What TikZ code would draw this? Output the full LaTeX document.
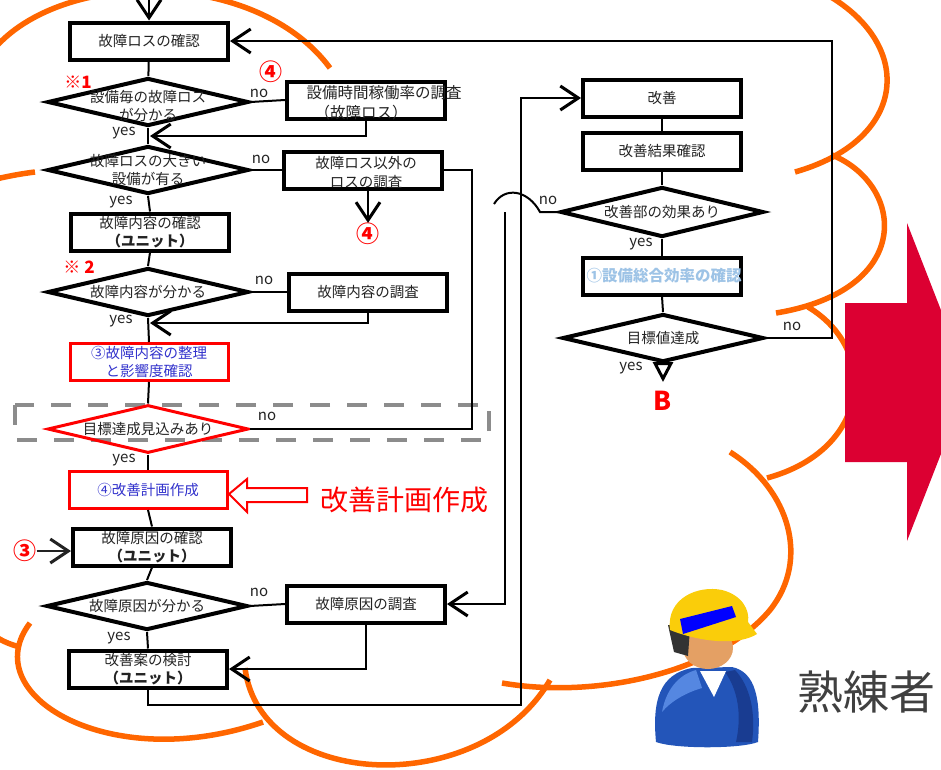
\documentclass[tikz,border=0pt]{standalone}
\usepackage{fontspec}
\setmainfont{Noto Sans CJK JP}
\usetikzlibrary{arrows.meta, shapes.geometric}

\definecolor{cloudorange}{RGB}{255,102,0}
\definecolor{planblue}{RGB}{51,51,204}
\definecolor{oeeblue}{RGB}{157,195,230}
\definecolor{bigred}{RGB}{220,0,50}
\definecolor{dashgray}{RGB}{140,140,140}
\definecolor{inkgray}{RGB}{35,35,35}
\definecolor{helmet}{RGB}{250,205,10}
\definecolor{skin}{RGB}{228,160,100}
\definecolor{suit}{RGB}{35,85,185}
\definecolor{suitdark}{RGB}{25,60,145}
\definecolor{suitlight}{RGB}{85,135,225}

\tikzset{
  proc/.style={draw, line width=4pt, fill=white, minimum width=158pt, minimum height=37pt,
    inner sep=0pt, align=center, font=\fontsize{14.5}{18}\selectfont, text=inkgray},
  redproc/.style={proc, draw=red, line width=3pt, text=planblue},
  decision/.style={diamond, draw, line width=4pt, minimum width=201pt,
    minimum height=48pt, inner sep=0pt},
  lbl/.style={font=\fontsize{14.5}{18}\selectfont, text=inkgray, align=center, inner sep=0pt},
  yn/.style={font=\fontsize{15}{16}\selectfont, text=inkgray, inner sep=0pt},
  redmark/.style={text=red, font=\fontsize{23}{24}\selectfont\bfseries, inner sep=0pt},
  flow/.style={line width=2pt},
  barb/.style={-{Straight Barb[length=18pt,width=24pt,line width=3pt]}},
  scallop/.style={draw=cloudorange, line width=5.5pt},
}

\begin{document}
\begin{tikzpicture}[x=1pt,y=-1pt]
\useasboundingbox (0,0) rectangle (941,769);
\clip (0,0) rectangle (941,769);

% cloud outline
\draw[scallop] (-20,70) .. controls (30,-30) and (250,-40) .. (330,68);
\draw[scallop] (-40,190) .. controls (-20,182) and (10,175) .. (35,172);
\draw[scallop] (780,-25) .. controls (915,15) and (925,135) .. (795,172);
\draw[scallop] (832,155) .. controls (905,185) and (915,290) .. (776,313);
\draw[scallop] (808,307) .. controls (880,350) and (870,450) .. (767,478);
\draw[scallop] (730,452) .. controls (790,490) and (810,560) .. (770,610)
  .. controls (720,670) and (600,700) .. (502,683);
\draw[scallop] (245,668) .. controls (260,790) and (480,800) .. (550,680);
\draw[scallop] (30,623) .. controls (-25,695) and (110,775) .. (263,722);
\draw[scallop] (-30,610) .. controls (-15,632) and (0,642) .. (20,647);

\draw[dashgray, line width=4.5pt, dash pattern=on 20pt off 17pt] (15,405) rectangle (489,440);

% left column
\node[proc] (lossChk) at (149,41) {故障ロスの確認};
\node[decision, label={[lbl,yshift=-4pt]center:設備毎の故障ロス\\が分かる}] (q1) at (148,102) {};
\node[proc, label={[lbl,align=left,font=\fontsize{15.5}{20}\selectfont,xshift=18pt,yshift=-3pt]center:設備時間稼働率の調査\\\hspace{8pt}（故障ロス）}] (runRate) at (366,100) {};
\node[decision, label={[lbl]center:故障ロスの大きい\\設備が有る}] (q2) at (148,170) {};
\node[proc, label={[lbl,font=\fontsize{14.5}{19}\selectfont,xshift=3pt,yshift=-3pt]center:故障ロス以外の\\ロスの調査}] (otherInv) at (363,170) {};
\node[proc] (contChk) at (150,232) {故障内容の確認\\{\bfseries（ユニット）}};
\node[decision, label={[lbl]center:故障内容が分かる}] (q3) at (148,292) {};
\node[proc] (contInv) at (368,292) {故障内容の調査};
\node[redproc] (sortOut) at (149,362) {③故障内容の整理\\と影響度確認};
\node[decision, draw=red, line width=3pt, label={[lbl]center:目標達成見込みあり}] (goal) at (148,429) {};
\node[redproc] (plan) at (148,490) {④改善計画作成};
\node[proc] (causeChk) at (152,547) {故障原因の確認\\{\bfseries（ユニット）}};
\node[decision, label={[lbl]center:故障原因が分かる}] (q4) at (147,606) {};
\node[proc] (causeInv) at (366,604) {故障原因の調査};
\node[proc] (review) at (148,669) {改善案の検討\\{\bfseries（ユニット）}};

% right column
\node[proc] (kaizen) at (662,98) {改善};
\node[proc] (result) at (662,151) {改善結果確認};
\node[decision, minimum width=203pt, minimum height=50pt, label={[lbl]center:改善部の効果あり}] (q5) at (662,212) {};
\node[proc, label={[lbl,text=oeeblue,font=\fontsize{15.5}{18}\selectfont\bfseries,xshift=2pt]center:①設備総合効率の確認}] (oee) at (662,276) {};
\node[decision, label={[lbl]center:目標値達成}] (q6) at (663,338) {};

% marks
\node[text=red, font=\fontsize{17}{18}\selectfont\bfseries, inner sep=0pt] (note1) at (78,82) {※1};
\node[text=red, font=\fontsize{17}{18}\selectfont\bfseries, inner sep=0pt] (note2) at (79,267) {※ 2};
\node[redmark] (m4a) at (271,72) {④};
\node[redmark] (m4b) at (368,234) {④};
\node[redmark] (m3) at (25,551) {③};
\node[text=red, font=\fontsize{26}{28}\selectfont\bfseries, inner sep=0pt] (outB) at (663,401) {B};

% yes / no
\node[yn] (no1) at (259,93) {no};
\node[yn] (yes1) at (124,133) {yes};
\node[yn] (no2) at (261,159) {no};
\node[yn] (yes2) at (121,202) {yes};
\node[yn] (no3) at (264,280) {no};
\node[yn] (yes3) at (121,321) {yes};
\node[yn] (no4) at (267,416) {no};
\node[yn] (yes4) at (124,460) {yes};
\node[yn] (no5) at (259,592) {no};
\node[yn] (yes5) at (119,638) {yes};
\node[yn] (no6) at (548,200) {no};
\node[yn] (yes6) at (641,244) {yes};
\node[yn] (no7) at (792,326) {no};
\node[yn] (yes7) at (631,368) {yes};

% connectors
\coordinate (entry) at (149,-10);
\coordinate (back1) at (150,136);
\coordinate (back3) at (150,323);
\coordinate (hopR) at (540,212);
\coordinate (hopL) at (494,204);
\coordinate (down5) at (505,212);
\coordinate (yesB) at (663,382);

\draw[flow,barb] (entry) -- (lossChk.north);
\draw[flow] (lossChk) -- (q1);
\draw[flow] (q1.east) -- (runRate.west);
\draw[flow,barb] (runRate.south) |- (back1);
\draw[flow] (q1.south) -- (q2.north);
\draw[flow] (q2.east) -- (otherInv.west);
\draw[flow,barb] (m4b.north |- otherInv.south) -- (m4b.north);
\draw[flow] (q2.south) -- (contChk.north);
\draw[flow] (contChk.south) -- (q3.north);
\draw[flow] (q3.east) -- (contInv.west);
\draw[flow,barb] (contInv.south) |- (back3);
\draw[flow] (q3.south) -- (sortOut.north);
\draw[flow] (sortOut.south) -- (goal.north);
\draw[flow] (goal.east) -- (472,429) |- (otherInv.east);
\draw[flow] (goal.south) -- (plan.north);
\draw[flow] (plan.south) -- (causeChk.north);
\draw[flow,barb,draw=inkgray] (m3.east) -- (m3.east -| causeChk.west);
\draw[flow] (causeChk.south) -- (q4.north);
\draw[flow] (q4.east) -- (causeInv.west);
\draw[flow,barb] (causeInv.south) |- (review.east);
\draw[flow] (q4.south) -- (review.north);
\draw[flow,barb] (review.south) |- (521,705) |- (kaizen.west);
\draw[flow] (kaizen) -- (result);
\draw[flow] (result) -- (q5);
\draw[flow] (q5.west) -- (hopR) .. controls (528,190) and (505,186) .. (hopL);
\draw[flow,barb] (down5) |- (causeInv.east);
\draw[flow] (q5.south) -- (oee.north);
\draw[flow] (oee.south) -- (q6.north);
\draw[flow,barb] (q6.east) -- (832,338) |- (lossChk.east);
\draw[flow,-{Triangle[open,length=20pt,width=20pt,line width=3pt]}] (q6.south) -- (yesB);

% hollow arrow and caption
\draw[red, line width=2pt, fill=white] (229,494) -- (247,479) -- (247,488) -- (307,488)
  -- (307,502) -- (247,502) -- (247,512) -- cycle;
\node[text=red, font=\fontsize{28}{30}\selectfont, inner sep=0pt] (planTxt) at (404,500) {改善計画作成};

% big arrow
\fill[bigred] (845,303) -- (907,303) -- (907,223) -- (969,382) -- (907,541) -- (907,462)
  -- (845,462) -- cycle;

% worker
\fill[suit] (656,742) .. controls (652,700) and (660,674) .. (692,668) -- (732,667)
  .. controls (756,672) and (761,700) .. (758,742) .. controls (740,749) and (675,749) .. (656,742);
\fill[suitdark] (725,672) .. controls (738,690) and (742,715) .. (736,742) -- (752,742)
  .. controls (756,712) and (750,686) .. (735,670) -- cycle;
\fill[suitlight] (662,712) .. controls (666,690) and (678,675) .. (696,670) -- (702,688)
  .. controls (688,692) and (672,700) .. (662,712);
\fill[white] (700,671) -- (726,671) -- (714,697) -- cycle;
\fill[skin] (708,648) ellipse [x radius=25pt, y radius=21pt];
\fill[black!80] (668,625) -- (690,628) -- (688,656) -- (674,652) -- cycle;
\fill[helmet] (670,630) .. controls (666,598) and (698,585) .. (722,590)
  .. controls (742,595) and (750,610) .. (748,622) -- (757,634)
  .. controls (738,646) and (700,642) .. (670,630);
\fill[blue] (680,619) -- (732,606) -- (736,617) -- (683,634) -- cycle;
\node[text=black!75, font=\fontsize{46}{48}\selectfont, inner sep=0pt] (expert) at (866,692) {熟練者};
\end{tikzpicture}
\end{document}
